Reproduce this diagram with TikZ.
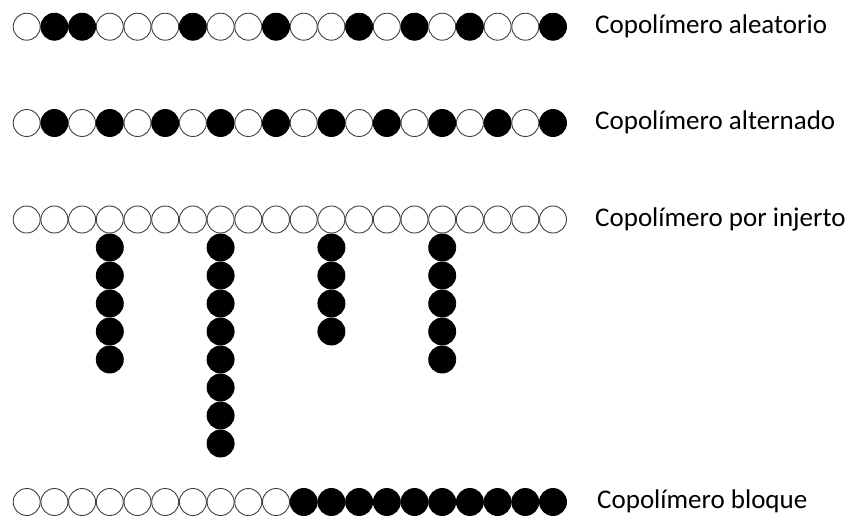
\documentclass[tikz,border=0pt]{standalone}
\usepackage{fontspec}
\setmainfont{Carlito}
\begin{document}
\begin{tikzpicture}[x=1pt,y=-1pt,
  mono/.style={circle, draw=black!75, line width=0.9pt, minimum size=27pt, inner sep=0pt, fill=white},
  m0/.style={mono},
  m1/.style={mono, fill=black, draw=black},
  lbl/.style={anchor=base west, font=\fontsize{27}{32}\selectfont, inner sep=0pt}]
\useasboundingbox (0,0) rectangle (852,517);
% Row 1: random
\foreach \c [count=\i from 0] in {0,1,1,0,0,0,1,0,0,1,0,0,1,0,1,0,1,0,0,1}
  \node[m\c] (a\i) at (26.7+27.7*\i, 26.7) {};
\node[lbl] (ta) at (595, 33.3) {Copolímero aleatorio};
% Row 2: alternating
\foreach \c [count=\i from 0] in {0,1,0,1,0,1,0,1,0,1,0,1,0,1,0,1,0,1,0,1}
  \node[m\c] (b\i) at (26.7+27.7*\i, 123) {};
\node[lbl] (tb) at (595, 129.6) {Copolímero alternado};
% Row 3: graft
\foreach \i in {0,...,19}
  \node[m0] (c\i) at (26.7+27.7*\i, 219.5) {};
\foreach \col/\n in {3/5,7/8,11/4,15/5}
  \foreach \k in {1,...,\n}
    \node[m1] (g\col-\k) at (26.7+27.7*\col, 219.5+28*\k) {};
\node[lbl] (tc) at (595, 226.1) {Copolímero por injerto};
% Row 4: block
\foreach \c [count=\i from 0] in {0,0,0,0,0,0,0,0,0,0,1,1,1,1,1,1,1,1,1,1}
  \node[m\c] (d\i) at (26.7+27.7*\i, 502) {};
\node[lbl] (td) at (597, 508.6) {Copolímero bloque};
\end{tikzpicture}
\end{document}
